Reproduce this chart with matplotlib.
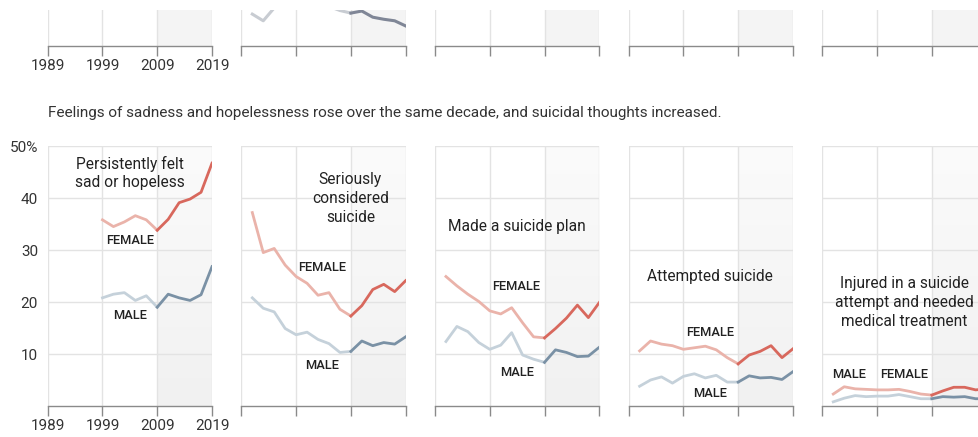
import numpy as np
import matplotlib.pyplot as plt
from matplotlib.colors import LinearSegmentedColormap

plt.rcParams['font.family'] = ['Roboto', 'DejaVu Sans']

# anos da pesquisa (a cada dois anos)
years = [1991, 1993, 1995, 1997, 1999, 2001, 2003, 2005, 2007, 2009,
         2011, 2013, 2015, 2017, 2019]
years_sad = [1999, 2001, 2003, 2005, 2007, 2009, 2011, 2013, 2015, 2017, 2019]

# tristeza persistente
sad_female = [35.8, 34.5, 35.4, 36.6, 35.8, 33.8, 35.9, 39.1, 39.8, 41.1, 46.7]
sad_male = [20.8, 21.5, 21.8, 20.3, 21.2, 19.0, 21.5, 20.8, 20.3, 21.4, 26.8]

# considerou suicidio seriamente
considered_female = [37.2, 29.5, 30.3, 27.1, 24.9, 23.6, 21.3, 21.8, 18.6, 17.3,
                     19.3, 22.4, 23.4, 22.0, 24.1]
considered_male = [20.8, 18.8, 18.1, 14.9, 13.7, 14.2, 12.8, 12.0, 10.3, 10.5,
                   12.5, 11.6, 12.2, 11.9, 13.3]

# fez um plano
plan_female = [24.9, 23.1, 21.5, 20.1, 18.3, 17.7, 18.9, 16.0, 13.3, 13.1,
               14.9, 16.9, 19.4, 17.0, 19.9]
plan_male = [12.4, 15.3, 14.3, 12.2, 10.9, 11.7, 14.1, 9.8, 9.0, 8.4,
             10.8, 10.3, 9.5, 9.6, 11.3]

# tentou suicidio
attempt_female = [10.6, 12.5, 11.9, 11.6, 10.9, 11.2, 11.5, 10.8, 9.3, 8.1,
                  9.8, 10.5, 11.6, 9.3, 11.0]
attempt_male = [3.8, 5.0, 5.6, 4.4, 5.7, 6.2, 5.4, 5.9, 4.6, 4.6,
                5.8, 5.4, 5.5, 5.1, 6.6]

# ferido em tentativa
injured_female = [2.3, 3.7, 3.3, 3.2, 3.1, 3.1, 3.2, 2.8, 2.3, 2.1,
                  2.9, 3.6, 3.6, 3.1, 3.3]
injured_male = [0.8, 1.5, 2.0, 1.8, 1.9, 1.9, 2.2, 1.8, 1.4, 1.4,
                1.8, 1.7, 1.8, 1.4, 1.4]

# grafico de cima (cortado)
top_values = [6.2, 4.9, 7.4, 8.2, 8.6, 8.4, 8.1, 7.7, 6.9, 6.4,
              6.8, 5.6, 5.2, 4.9, 3.9]

titles = ["Persistently felt\nsad or hopeless",
          "Seriously\nconsidered\nsuicide",
          "Made a suicide plan",
          "Attempted suicide",
          "Injured in a suicide\nattempt and needed\nmedical treatment"]

panels = [(years_sad, sad_female, sad_male),
          (years, considered_female, considered_male),
          (years, plan_female, plan_male),
          (years, attempt_female, attempt_male),
          (years, injured_female, injured_male)]

# posicoes dos textos (ano, valor)
title_pos = [(2004, 44.8), (2008.9, 39.9), (2003.9, 34.6), (2003.9, 24.9), (2004, 19.9)]
female_pos = [(2004, 31.9), (2003.8, 26.6), (2003.9, 22.9), (2003.9, 14.2), (2004, 6.0)]
male_pos = [(2004, 17.4), (2003.8, 7.7), (2003.9, 6.5), (2003.9, 2.4), (1993.9, 6.0)]

W, H = 979, 437
fig = plt.figure(figsize=(W / 100, H / 100), dpi=100)

def px_axes(left, top, width, height):
    return fig.add_axes([left / W, 1 - (top + height) / H, width / W, height / H])

fem_light, fem_dark = '#eab3aa', '#d8685d'
male_light, male_dark = '#c5d1da', '#7a91a5'
grid_c = '#e3e3e3'
shade = LinearSegmentedColormap.from_list('shade', ['#f1f1f1', '#fbfbfb'])
grad = np.linspace(0, 1, 100).reshape(-1, 1)

def style(ax, ymax, first):
    ax.set_xlim(1989, 2019)
    ax.set_ylim(0, ymax)
    for s in ['top', 'right', 'left']:
        ax.spines[s].set_visible(False)
    ax.spines['bottom'].set_color('#8a8a8a')
    ax.spines['bottom'].set_linewidth(1)
    ax.set_xticks([1989, 1999, 2009, 2019])
    ax.tick_params(axis='x', length=7, width=1, color='#8a8a8a',
                   labelsize=11, labelcolor='#333333', pad=2)
    ax.tick_params(axis='y', length=0)
    ax.set_axisbelow(True)
    ax.grid(axis='x', color=grid_c, lw=1)
    if not first:
        ax.set_xticklabels([])

def draw(ax, xs, ys, light, dark, lw=2.0):
    xs = np.array(xs)
    ys = np.array(ys)
    pre = xs <= 2009
    post = xs >= 2009
    ax.plot(xs[pre], ys[pre], color=light, lw=lw, zorder=3, solid_joinstyle='round')
    ax.plot(xs[post], ys[post], color=dark, lw=lw, zorder=3, solid_joinstyle='round')

left0, step, width = 47.7, 193.65, 164.3

# faixa de cima
for i in range(5):
    ax = px_axes(left0 + i * step, 10, width, 36)
    ax.axvspan(2009, 2019, color='#f4f4f4', zorder=0, lw=0)
    style(ax, 7, i == 0)
    ax.set_yticks([])
    if i == 1:
        draw(ax, years, top_values, '#c8ccd2', '#7f8696', lw=2.2)

fig.text(48 / W, 1 - 113 / H,
         "Feelings of sadness and hopelessness rose over the same decade, and suicidal thoughts increased.",
         fontsize=11, color='#333333', va='center', ha='left')

# paineis de baixo
for i in range(5):
    ax = px_axes(left0 + i * step, 146, width, 260)
    ax.imshow(grad, extent=[2009, 2019, 0, 50], aspect='auto', cmap=shade,
              origin='lower', zorder=0)
    style(ax, 50, i == 0)
    ax.set_yticks([10, 20, 30, 40, 50])
    ax.grid(axis='y', color=grid_c, lw=1)
    if i == 0:
        ax.set_yticklabels(['10', '20', '30', '40', '50%'])
        ax.tick_params(axis='y', labelsize=11, labelcolor='#333333', pad=7)
    else:
        ax.set_yticklabels([])
    xs, fem, mal = panels[i]
    draw(ax, xs, mal, male_light, male_dark)
    draw(ax, xs, fem, fem_light, fem_dark)
    ax.text(*title_pos[i], titles[i], ha='center', va='center', fontsize=11.2,
            color='#222222', linespacing=1.3, zorder=5)
    ax.text(*female_pos[i], "FEMALE", ha='center', va='center', fontsize=9.3,
            color='#222222', fontweight='medium', zorder=5)
    ax.text(*male_pos[i], "MALE", ha='center', va='center', fontsize=9.3,
            color='#222222', fontweight='medium', zorder=5)

fig.savefig('out.png', dpi=100)
